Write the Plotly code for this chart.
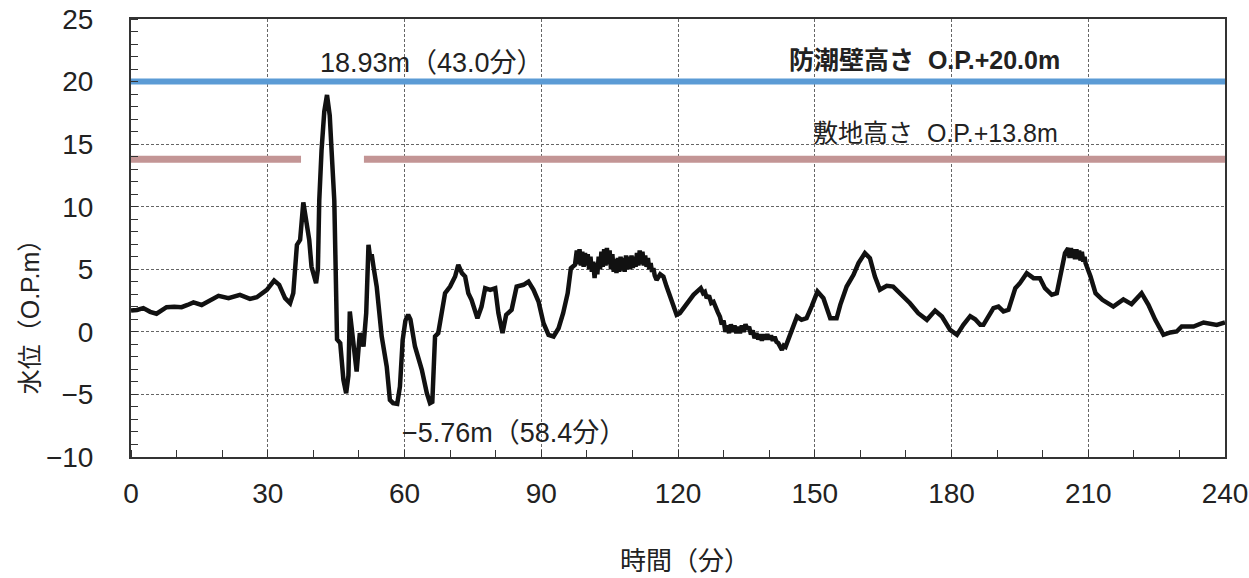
import plotly.graph_objects as go

# Time since the earthquake (minutes) and computed water level (O.P. m)
minutes = [
    0.0, 1.3, 2.7, 4.2, 5.6, 6.8, 7.8, 9.5, 11.1, 12.4, 13.7, 15.5, 17.3, 19.2,
    21.4, 23.9, 26.1, 27.6, 29.8, 31.4, 32.5, 33.8, 34.9, 35.6, 36.4, 37.1, 37.8,
    38.5, 39.1, 39.6, 40.6, 41.0, 41.3, 41.8, 42.4, 43.0, 43.6, 44.0, 44.6, 44.9,
    45.2, 45.9, 46.6, 47.2, 47.7, 48.0, 48.8, 49.5, 50.2, 51.0, 51.6, 52.1, 52.5,
    52.8, 53.2, 53.9, 55.0, 56.1, 56.8, 57.5, 58.4, 59.0, 59.6, 60.2, 60.8, 61.3,
    62.3, 63.8, 64.9, 65.6, 66.1, 66.7, 67.4, 68.2, 68.9, 70.0, 71.1, 71.8, 72.6,
    73.3, 74.0, 74.7, 76.0, 76.9, 77.7, 78.8, 79.9, 80.6, 81.5, 82.3, 83.5, 84.6,
    86.1, 87.2, 88.3, 89.4, 90.5, 91.6, 92.7, 93.8, 94.8, 95.8, 96.5, 97.4,
    97.8, 98.1, 98.4, 98.7, 99.0, 99.3, 99.6, 99.9, 100.2, 100.5, 100.8, 101.1,
    101.4, 101.7, 102.0, 102.3, 102.6, 102.9, 103.2, 103.5, 103.8, 104.1, 104.4,
    104.7, 105.0, 105.3, 105.6, 105.9, 106.2, 106.5, 106.8, 107.1, 107.4, 107.7,
    108.0, 108.3, 108.6, 108.9, 109.2, 109.5, 109.8, 110.1, 110.4, 110.7, 111.0,
    111.3, 111.6, 111.9, 112.2, 112.5, 112.8, 113.1, 113.4, 113.7, 114.0, 114.3,
    114.6, 114.9, 115.3, 116.1, 116.8, 117.5, 119.0, 119.7, 120.4, 121.9, 123.4,
    125.0, 125.5, 125.9, 126.3, 126.8, 127.3, 127.8, 128.3, 128.7, 129.2, 129.6,
    130.0, 130.4, 130.8, 131.2, 131.6, 132.0, 132.4, 132.8, 133.2, 133.6, 134.0,
    134.4, 134.8, 135.2, 135.6, 136.0, 136.4, 136.8, 137.2, 137.6, 138.0, 138.4,
    138.8, 139.2, 139.6, 140.0, 140.4, 140.8, 141.2, 141.6, 142.0, 142.4, 142.8,
    143.2, 143.6, 143.9, 144.3, 144.7, 145.0, 146.1, 147.1, 148.2, 149.3, 150.6,
    151.9, 153.4, 154.8, 155.6, 157.0, 158.5, 159.6, 161.0, 162.1, 163.2, 164.3,
    165.8, 167.2, 169.1, 170.9, 172.7, 174.6, 176.4, 177.9, 179.7, 181.2, 182.6,
    184.1, 185.2, 186.3, 187.0, 189.2, 190.3, 191.4, 192.5, 194.0, 195.0, 196.5,
    198.0, 199.4, 200.5, 202.0, 203.1, 204.2, 204.9, 205.6, 205.9, 206.2, 206.5,
    206.8, 207.1, 207.4, 207.7, 208.0, 208.3, 208.6, 208.9, 209.2, 209.4, 210.5,
    211.6, 213.1, 215.5, 217.7, 219.5, 221.7, 223.2, 224.7, 226.5, 228.0, 229.4,
    230.5, 233.1, 235.3, 238.2, 240.0,
]
water_level = [
    1.7, 1.75, 1.9, 1.6, 1.45, 1.7, 1.97, 2.0, 1.97, 2.15, 2.35, 2.15, 2.5, 2.88,
    2.69, 2.96, 2.64, 2.77, 3.36, 4.1, 3.76, 2.69, 2.29, 3.09, 6.95, 7.35, 10.34,
    8.95, 7.35, 5.2, 3.89, 5.0, 10.5, 14.5, 17.6, 18.93, 17.3, 14.5, 10.5, 5.0,
    -0.6, -0.9, -3.84, -4.9, -3.5, 1.63, -0.9, -3.17, -0.1, -1.17, 1.49, 6.95, 5.8,
    6.2, 5.2, 3.62, -0.37, -2.77, -5.44, -5.7, -5.76, -4.37, -0.64, 0.9, 1.36, 1.0,
    -1.17, -3.04, -4.9, -5.7, -5.6, -0.37, -0.1, 1.49, 3.09, 3.62, 4.42, 5.36, 4.69,
    4.42, 3.09, 2.56, 1.09, 2.02, 3.49, 3.36, 3.49, 1.49, -0.1, 1.36, 1.76, 3.62,
    3.76, 4.02, 3.36, 2.42, 0.69, -0.24, -0.37, 0.29, 1.49, 3.09, 5.09, 5.36,
    6.5, 5.4, 6.6, 5.3, 6.4, 5.2, 6.3, 5.3, 6.2, 5.0, 6.0, 4.8,
    5.6, 4.3, 5.5, 4.6, 6.0, 5.0, 6.4, 5.2, 6.6, 5.3, 6.7,
    5.4, 6.5, 5.0, 6.2, 4.8, 5.8, 4.7, 5.9, 4.8, 6.0, 4.9,
    5.9, 4.8, 6.1, 5.0, 6.0, 5.0, 6.1, 5.1, 6.0, 5.2, 6.3,
    5.3, 6.5, 5.4, 6.4, 5.3, 6.1, 5.2, 5.9, 5.0, 5.5, 4.8,
    5.1, 4.5, 4.15, 4.6, 4.42, 3.62, 2.02, 1.36, 1.49, 2.16, 2.96,
    3.49, 3.1, 3.2, 2.7, 2.9, 2.3, 2.4, 1.8, 1.6, 1.2, 0.6,
    0.9, 0.0, 0.5, -0.1, 0.6, 0.0, 0.5, -0.1, 0.4, -0.1, 0.5,
    0.0, 0.6, 0.2, 0.4, -0.2, 0.1, -0.5, -0.1, -0.6, -0.2, -0.7,
    -0.2, -0.6, -0.2, -0.6, -0.3, -0.7, -0.4, -0.8, -0.9, -1.3, -1.45,
    -1.1, -1.2, -0.9, -0.5, -0.2, 0.16, 1.22, 0.96, 1.09, 2.02, 3.22,
    2.69, 1.09, 1.09, 2.16, 3.62, 4.56, 5.49, 6.29, 5.89, 4.42, 3.36,
    3.68, 3.62, 2.96, 2.29, 1.49, 0.96, 1.7, 1.22, 0.16, -0.24, 0.56,
    1.25, 1.0, 0.56, 0.56, 1.89, 2.02, 1.63, 1.76, 3.49, 3.89, 4.69,
    4.29, 4.29, 3.49, 2.96, 3.09, 4.96, 6.29, 6.69, 5.9, 6.7, 5.9,
    6.6, 5.8, 6.6, 5.8, 6.5, 5.7, 6.4, 5.6, 6.0, 5.5, 4.42,
    3.09, 2.56, 2.02, 2.6, 2.22, 3.09, 2.16, 0.96, -0.24, -0.05, 0.03,
    0.43, 0.43, 0.75, 0.56, 0.75,
]

# Reference heights
wall_height = 20.0      # 防潮壁高さ
site_height = 13.8      # 敷地高さ
site_segments = [(0.0, 37.3), (51.1, 240.0)]

# Extremes reported on the chart
max_level, max_time = 18.93, 43.0
min_level, min_time = -5.76, 58.4

x_ticks = [0, 30, 60, 90, 120, 150, 180, 210, 240]
y_ticks = [-10, -5, 0, 5, 10, 15, 20, 25]

FONT = "Liberation Sans, Arial, Noto Sans CJK JP, sans-serif"
TEXT = "#222222"

fig = go.Figure()

fig.add_trace(go.Scatter(
    x=[0, 240], y=[wall_height, wall_height], mode="lines",
    line=dict(color="#5b9bd5", width=6), hoverinfo="skip", showlegend=False,
))
for x0, x1 in site_segments:
    fig.add_trace(go.Scatter(
        x=[x0, x1], y=[site_height, site_height], mode="lines",
        line=dict(color="#c39595", width=7), hoverinfo="skip", showlegend=False,
    ))

fig.add_trace(go.Scatter(
    x=minutes, y=water_level, mode="lines",
    line=dict(color="#111111", width=4.5), showlegend=False,
))

fig.add_annotation(
    x=66.0, y=21.5, xref="x", yref="y", showarrow=False,
    xanchor="center", yanchor="middle",
    text=f"{max_level:.2f}m（{max_time:.1f}分）",
    font=dict(family=FONT, size=27, color=TEXT),
)
fig.add_annotation(
    x=84.0, y=-8.1, xref="x", yref="y", showarrow=False,
    xanchor="center", yanchor="middle",
    text=f"−{abs(min_level):.2f}m（{min_time:.1f}分）",
    font=dict(family=FONT, size=27, color=TEXT),
)
fig.add_annotation(
    x=174.0, y=21.75, xref="x", yref="y", showarrow=False,
    xanchor="center", yanchor="middle",
    text=f"<b>防潮壁高さ\u00a0\u00a0O.P.+{wall_height:.1f}m</b>",
    font=dict(family=FONT, size=25, color=TEXT),
)
fig.add_annotation(
    x=176.4, y=15.9, xref="x", yref="y", showarrow=False,
    xanchor="center", yanchor="middle",
    text=f"敷地高さ\u00a0\u00a0O.P.+{site_height:.1f}m",
    font=dict(family=FONT, size=25, color=TEXT),
)

# Axis titles
fig.add_annotation(
    x=0.5064, y=-0.237, xref="paper", yref="paper", showarrow=False,
    xanchor="center", yanchor="middle",
    text="時間（分）", font=dict(family=FONT, size=26, color=TEXT),
)
fig.add_annotation(
    x=-0.0923, y=0.335, xref="paper", yref="paper", showarrow=False,
    xanchor="center", yanchor="middle",
    text="水位（O.P.m）", textangle=-90,
    font=dict(family=FONT, size=25, color=TEXT),
)

axis_common = dict(
    showgrid=True, gridcolor="#666666", gridwidth=1, griddash="3px,2px",
    showline=True, linecolor="#333333", linewidth=2, mirror=True,
    zeroline=False, ticks="", automargin=False,
    ticklabeloverflow="allow",
    tickfont=dict(family=FONT, size=28, color=TEXT),
)
fig.update_xaxes(
    range=[0, 240], tickmode="array", tickvals=x_ticks,
    ticktext=[str(v) for v in x_ticks], ticklabelstandoff=10,
    minor=dict(tick0=0, dtick=10, ticks="inside", ticklen=7,
               tickcolor="#333333", tickwidth=1, showgrid=False),
    **axis_common,
)
fig.update_yaxes(
    range=[-10, 25], tickmode="array", tickvals=y_ticks,
    ticktext=[("−" + str(-v)) if v < 0 else str(v) for v in y_ticks],
    ticklabelstandoff=30,
    minor=dict(tick0=0, dtick=1, ticks="inside", ticklen=7,
               tickcolor="#333333", tickwidth=1, showgrid=False),
    **axis_common,
)

fig.update_layout(
    width=1249, height=578,
    margin=dict(l=131, r=24, t=19, b=121, autoexpand=False),
    paper_bgcolor="white", plot_bgcolor="white",
    font=dict(family=FONT, color=TEXT),
)

fig.write_html("out.html")
